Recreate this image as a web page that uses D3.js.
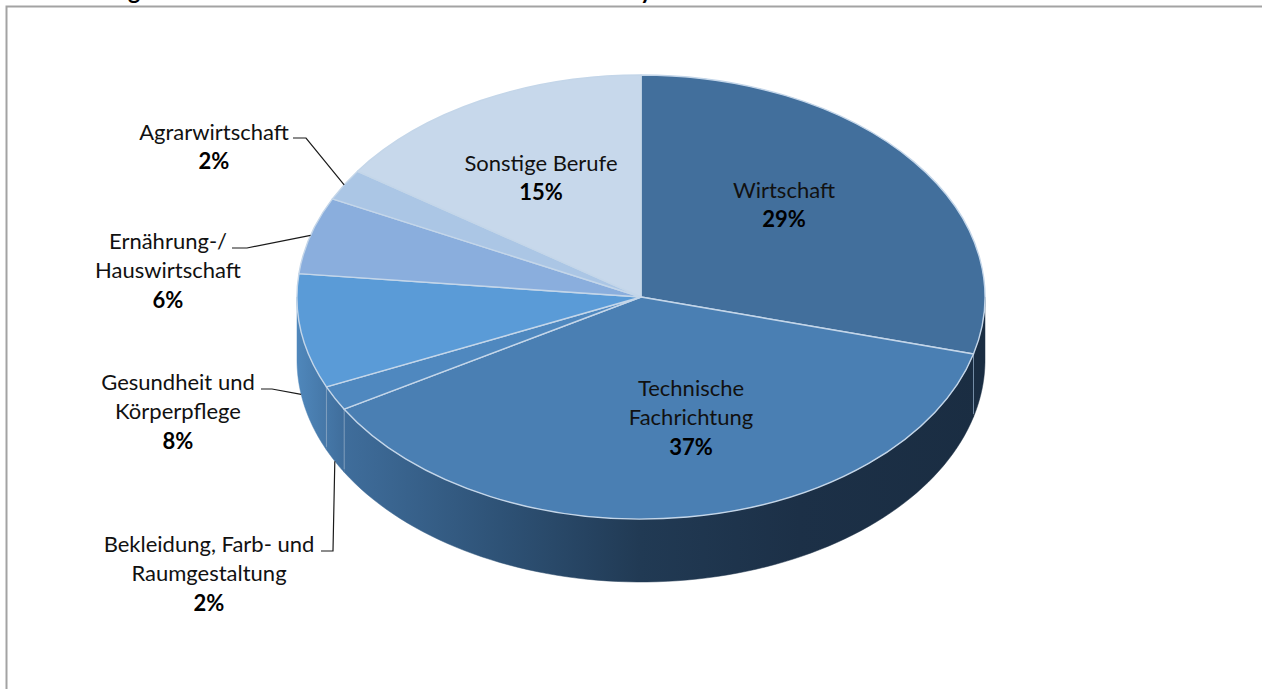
<!DOCTYPE html>
<html>
<head>
<meta charset="utf-8">
<script src="https://cdn.jsdelivr.net/npm/d3@7"></script>
<style>
    html, body { margin: 0; padding: 0; background: #fff; overflow: hidden; }
    text { font-family: Lato, "Open Sans", sans-serif; fill: #111; }
</style>
</head>
<body>
<div id="container"></div>
<script>
// values
var categories = ["Wirtschaft", "Technische Fachrichtung", "Bekleidung, Farb- und Raumgestaltung",
    "Gesundheit und Körperpflege", "Ernährung-/ Hauswirtschaft", "Agrarwirtschaft", "Sonstige Berufe"];
var shares = [29.1, 37.4, 1.8, 8.3, 5.6, 2.3, 15.4];
var labelLines = [
    ["Wirtschaft"],
    ["Technische", "Fachrichtung"],
    ["Bekleidung, Farb- und", "Raumgestaltung"],
    ["Gesundheit und", "Körperpflege"],
    ["Ernährung-/", "Hauswirtschaft"],
    ["Agrarwirtschaft"],
    ["Sonstige Berufe"]
];
var topColors = ["#426f9c", "#4a7fb3", "#4f88bf", "#5a9bd7", "#8aaedd", "#abc6e5", "#c7d8eb"];
var titleScraps = ["g", "y"];

// layout, separate from the data
var width = 1262, height = 689;
var cx = 641, cy = 297, rx = 344, ry = 222, depth = 63;
var labelX = [784, 691, 209, 178, 168, 214, 541];
var labelY = [189, 387, 543, 381, 240, 131, 162];
var lineGap = 29.5;
// elbow of each leader: [text end x, elbow x, y], null = label sits on the slice
var elbows = [null, null, [321, 333, 551], [261, 272, 389], [232, 247, 248], [293, 306, 138], null];

var svg = d3.select("#container").append("svg")
    .attr("width", width)
    .attr("height", height);

var defs = svg.append("defs");
var wallGrad = defs.append("linearGradient")
    .attr("id", "wall")
    .attr("gradientUnits", "userSpaceOnUse")
    .attr("x1", cx - rx).attr("x2", cx + rx).attr("y1", 0).attr("y2", 0);
var wallStops = [[297, "#4f87bb"], [345, "#3f6d9b"], [500, "#2e5276"], [640, "#213a54"], [800, "#1c3047"], [985, "#1a2d42"]];
wallStops.forEach(function (s) {
    wallGrad.append("stop")
        .attr("offset", (s[0] - (cx - rx)) / (2 * rx))
        .attr("stop-color", s[1]);
});

// chart frame, cut by the page edge
svg.append("path")
    .attr("d", "M6.5," + height + "V6.5H" + width)
    .attr("fill", "none")
    .attr("stroke", "#a3a3a3")
    .attr("stroke-width", 2);

// bits of the heading above the frame
svg.selectAll(".scrap").data(titleScraps).enter().append("text")
    .attr("class", "scrap")
    .attr("x", function (d, i) { return [128, 640][i]; })
    .attr("y", -1.5)
    .attr("font-size", 23)
    .attr("font-weight", 700)
    .style("fill", "#000")
    .text(function (d) { return d; });

var pie = d3.pie().sort(null).value(function (d) { return d; });
var slices = pie(shares);

// unit circle angle -> ellipse point
var px = d3.scaleLinear().domain([-1, 1]).range([cx - rx, cx + rx]);
var py = d3.scaleLinear().domain([-1, 1]).range([cy - ry, cy + ry]);
function onRim(a, drop) {
    return [px(Math.sin(a)), py(-Math.cos(a)) + (drop || 0)];
}

// side wall only exists on the front half, pi/2 to 3pi/2
var line = d3.line();
function wallPath(d) {
    var a0 = Math.max(d.startAngle, Math.PI / 2), a1 = Math.min(d.endAngle, 3 * Math.PI / 2);
    if (a1 <= a0) return null;
    var angles = d3.range(0, 81).map(function (i) { return a0 + (a1 - a0) * i / 80; });
    var upper = angles.map(function (a) { return onRim(a); });
    var lower = angles.slice().reverse().map(function (a) { return onRim(a, depth); });
    return line(upper.concat(lower)) + "Z";
}

svg.append("g").selectAll("path").data(slices).enter().append("path")
    .attr("d", wallPath)
    .attr("fill", "url(#wall)")
    .attr("stroke", "url(#wall)")
    .attr("stroke-width", 0.5);

// pale seams where the slices meet on the wall
var seams = slices.filter(function (d) {
    return d.endAngle > Math.PI / 2 && d.endAngle < 3 * Math.PI / 2;
});
svg.append("g").selectAll("line").data(seams).enter().append("line")
    .attr("x1", function (d) { return onRim(d.endAngle)[0]; })
    .attr("x2", function (d) { return onRim(d.endAngle)[0]; })
    .attr("y1", function (d) { return onRim(d.endAngle)[1]; })
    .attr("y2", function (d) { return onRim(d.endAngle, depth)[1] - 3; })
    .attr("stroke", "#8fa9c4")
    .attr("stroke-opacity", 0.75)
    .attr("stroke-width", 1);

// top face: plain d3 arcs squashed to an ellipse
var arc = d3.arc().innerRadius(0).outerRadius(rx);
svg.append("g")
    .attr("transform", "translate(" + cx + "," + cy + ") scale(1," + (ry / rx) + ")")
    .selectAll("path").data(slices).enter().append("path")
    .attr("d", arc)
    .attr("fill", function (d, i) { return topColors[i]; })
    .attr("stroke", "#c4d6e9")
    .attr("stroke-width", 1.4)
    .attr("stroke-linejoin", "round")
    .attr("vector-effect", "non-scaling-stroke");

// leaders end on the rim at the middle of the slice, on the wall's lower edge if it has one
var leaders = svg.append("g");
slices.forEach(function (d, i) {
    if (!elbows[i]) return;
    var mid = (d.startAngle + d.endAngle) / 2;
    var front = mid > Math.PI / 2 && mid < 3 * Math.PI / 2;
    var end = onRim(mid, front ? depth : 0);
    leaders.append("path")
        .attr("d", line([[elbows[i][0], elbows[i][2]], [elbows[i][1], elbows[i][2]], end]))
        .attr("fill", "none")
        .attr("stroke", "#1a1a1a")
        .attr("stroke-width", 1.2);
});

var pct = d3.format(".0f");
var labels = svg.append("g").selectAll("g").data(categories).enter().append("g");
labels.each(function (name, i) {
    var g = d3.select(this);
    labelLines[i].forEach(function (t, k) {
        g.append("text")
            .attr("x", labelX[i])
            .attr("y", labelY[i] + k * lineGap)
            .attr("text-anchor", "middle")
            .attr("dominant-baseline", "central")
            .attr("font-size", 22)
            .text(t);
    });
    g.append("text")
        .attr("x", labelX[i])
        .attr("y", labelY[i] + labelLines[i].length * lineGap)
        .attr("text-anchor", "middle")
        .attr("dominant-baseline", "central")
        .attr("font-size", 22)
        .attr("font-weight", 700)
        .style("fill", "#000")
        .text(pct(shares[i]) + "%");
});
</script>
</body>
</html>
